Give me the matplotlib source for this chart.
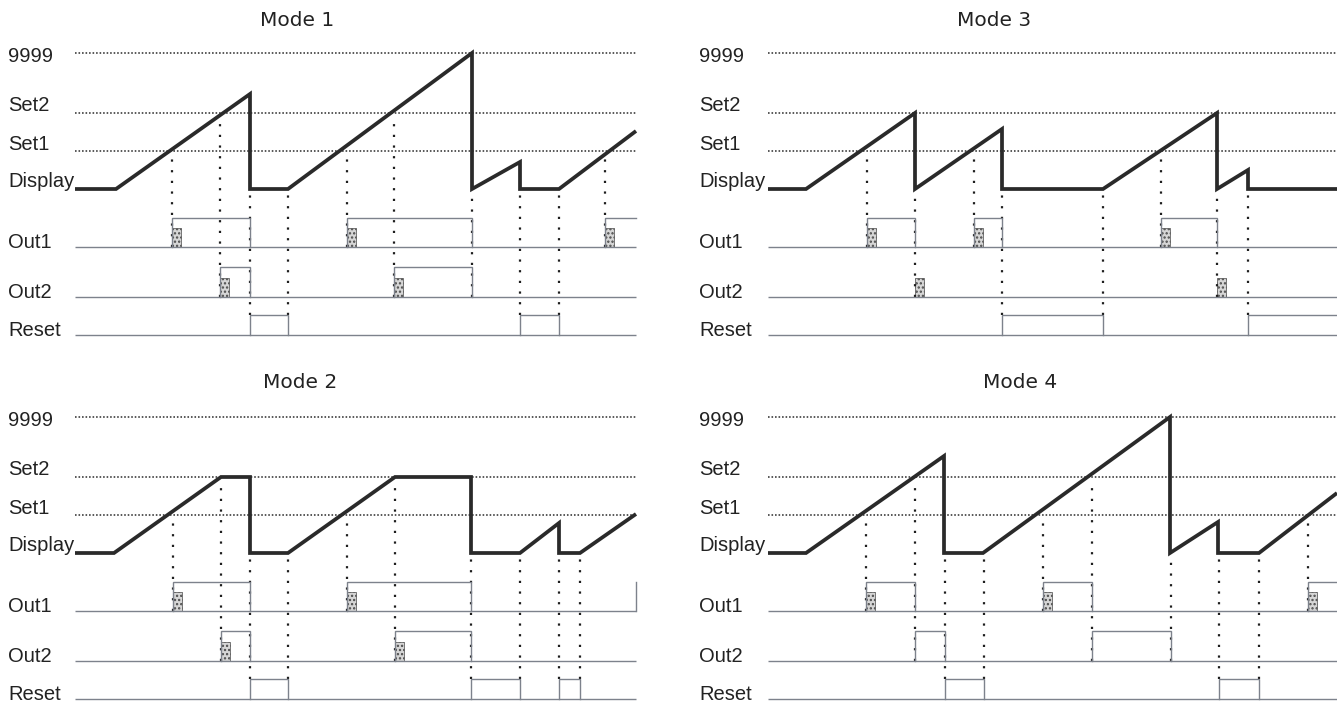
import matplotlib
matplotlib.use("Agg")
import matplotlib.pyplot as plt
from matplotlib.patches import Rectangle

# ---------------- levels (pixel-like units, display baseline = 0) ----------------
LV_9999, LV_SET2, LV_SET1, LV_DISP = 136, 76, 38, 0
OUT1_LO, OUT1_HI = -58, -29
OUT2_LO, OUT2_HI = -108, -78
RST_LO, RST_HI = -146, -126
row_labels = ["9999", "Set2", "Set1", "Display", "Out1", "Out2", "Reset"]

# ---------------- Mode 1 ----------------
m1_disp_t = [0, 41, 175, 175, 213, 397, 397, 445, 445, 484, 561]
m1_disp_v = [0, 0, 95, 0, 0, 136, 0, 27, 0, 0, 58]
m1_out1_on = [(97, 175), (272, 397), (530, 561)]
m1_out2_on = [(145, 175), (319, 397)]
m1_reset_on = [(175, 213), (445, 484)]
m1_out1_hatch = [97, 272, 530]
m1_out2_hatch = [145, 319]
m1_guide_t = [97, 145, 175, 213, 272, 319, 397, 445, 484, 530]
m1_guide_from = ["Set1", "Set2", "Display", "Display", "Set1", "Set2", "Display", "Display", "Display", "Set1"]
m1_guide_to = ["Out1", "Out2", "Reset", "Reset", "Out1", "Out2", "Out2", "Reset", "Reset", "Out1"]

# ---------------- Mode 2 ----------------
m2_disp_t = [0, 39, 146, 175, 175, 213, 320, 396, 396, 445, 484, 484, 505, 561]
m2_disp_v = [0, 0, 76, 76, 0, 0, 76, 76, 0, 0, 30, 0, 0, 39]
m2_out1_on = [(98, 175), (272, 396), (561, 561)]
m2_out2_on = [(146, 175), (320, 396)]
m2_reset_on = [(175, 213), (396, 445), (484, 505)]
m2_out1_hatch = [98, 272]
m2_out2_hatch = [146, 320]
m2_guide_t = [98, 146, 175, 213, 272, 320, 396, 445, 484, 505]
m2_guide_from = ["Set1", "Set2", "Display", "Display", "Set1", "Set2", "Display", "Display", "Display", "Display"]
m2_guide_to = ["Out1", "Out2", "Reset", "Reset", "Out1", "Out2", "Reset", "Reset", "Reset", "Reset"]

# ---------------- Mode 3 ----------------
m3_disp_t = [0, 38, 147, 147, 234, 234, 335, 449, 449, 480, 480, 569]
m3_disp_v = [0, 0, 76, 0, 60, 0, 0, 76, 0, 19, 0, 0]
m3_out1_on = [(99, 147), (206, 234), (393, 449)]
m3_out2_on = []
m3_reset_on = [(234, 335), (480, 569)]
m3_out1_hatch = [99, 206, 393]
m3_out2_hatch = [147, 449]
m3_guide_t = [99, 147, 206, 234, 335, 393, 449, 480]
m3_guide_from = ["Set1", "Display", "Set1", "Display", "Display", "Set1", "Display", "Display"]
m3_guide_to = ["Out1", "Out2", "Out1", "Reset", "Reset", "Out1", "Out2", "Reset"]

# ---------------- Mode 4 ----------------
m4_disp_t = [0, 38, 176, 176, 215, 402, 402, 450, 450, 491, 569]
m4_disp_v = [0, 0, 97, 0, 0, 136, 0, 31, 0, 0, 60]
m4_out1_on = [(98, 147), (275, 324), (540, 569)]
m4_out2_on = [(147, 177), (324, 403)]
m4_reset_on = [(177, 216), (451, 491)]
m4_out1_hatch = [98, 275, 540]
m4_out2_hatch = []
m4_guide_t = [98, 147, 177, 216, 275, 324, 403, 451, 491, 540]
m4_guide_from = ["Set1", "Set2", "Display", "Display", "Set1", "Set2", "Display", "Display", "Display", "Set1"]
m4_guide_to = ["Out1", "Out2", "Reset", "Reset", "Out1", "Out2", "Out2", "Reset", "Reset", "Out1"]

# ---------------- drawing ----------------
W, H = 1337, 706
plt.rcParams["hatch.linewidth"] = 1.1
fig = plt.figure(figsize=(W / 100, H / 100), dpi=100)
fig.patch.set_facecolor("white")

guide_top = {"Set1": LV_SET1, "Set2": LV_SET2, "Display": LV_DISP}
guide_bot = {"Out1": OUT1_LO, "Out2": OUT2_LO, "Reset": RST_HI}

LABEL_FONT = dict(family="Liberation Sans", fontsize=14.5, color="#222222")
TRACE = "#7d828c"
DARK = "#2a2a2a"


def steps(ax, on, lo, hi, t_end):
    ax.hlines(lo, 0, t_end, color=TRACE, lw=1.0)
    for a, b in on:
        xs = [a, a, b]
        ys = [lo, hi, hi]
        if b < t_end:
            xs.append(b)
            ys.append(lo)
        ax.plot(xs, ys, color=TRACE, lw=1.0, solid_joinstyle="miter")


def hatch_box(ax, t, lo):
    ax.add_patch(Rectangle((t, lo), 9, 19, facecolor="#d6d6d6",
                           edgecolor="#4a4a4a", hatch="....", lw=0.5))


def panel(rect_px, t0_px, base_px, t_end, label_x, title, title_x, title_y,
          disp_t, disp_v, out1_on, out2_on, reset_on, out1_hatch, out2_hatch,
          g_t, g_from, g_to):
    x0, y0, x1, y1 = rect_px
    ax = fig.add_axes([x0 / W, 1 - y1 / H, (x1 - x0) / W, (y1 - y0) / H])
    ax.set_xlim(x0 - t0_px, x1 - t0_px)
    ax.set_ylim(base_px - y1, base_px - y0)
    ax.axis("off")

    # threshold lines
    for lv in (LV_9999, LV_SET2, LV_SET1):
        ax.hlines(lv, 0, t_end, color="#333333", lw=1.15, linestyle=(0, (1, 1.2)))

    # guides
    for t, a, b in zip(g_t, g_from, g_to):
        ax.vlines(t, guide_bot[b], guide_top[a] - 6, color="#1e1e1e", lw=1.6,
                  linestyle=(0, (1, 3.8)))

    # outputs
    steps(ax, out1_on, OUT1_LO, OUT1_HI, t_end)
    steps(ax, out2_on, OUT2_LO, OUT2_HI, t_end)
    steps(ax, reset_on, RST_LO, RST_HI, t_end)
    for t in out1_hatch:
        hatch_box(ax, t, OUT1_LO)
    for t in out2_hatch:
        hatch_box(ax, t, OUT2_LO)

    # display waveform
    ax.plot(disp_t, disp_v, color=DARK, lw=2.7, solid_joinstyle="miter",
            solid_capstyle="butt")

    # labels
    lx = label_x - t0_px
    ax.text(lx, LV_9999 - 9, row_labels[0], va="baseline", ha="left", **LABEL_FONT)
    ax.text(lx, LV_SET2 + 2, row_labels[1], va="baseline", ha="left", **LABEL_FONT)
    ax.text(lx, LV_SET1 + 1, row_labels[2], va="baseline", ha="left", **LABEL_FONT)
    ax.text(lx, LV_DISP + 2, row_labels[3], va="baseline", ha="left", **LABEL_FONT)
    ax.text(lx, OUT1_LO - 1, row_labels[4], va="baseline", ha="left", **LABEL_FONT)
    ax.text(lx, OUT2_LO - 1, row_labels[5], va="baseline", ha="left", **LABEL_FONT)
    ax.text(lx, RST_LO - 1, row_labels[6], va="baseline", ha="left", **LABEL_FONT)

    ax.text(title_x - t0_px, base_px - title_y, title, ha="center", va="center",
            family="DejaVu Sans", fontsize=14.5, color="#222222")


panel((0, 0, 668, 353), 75, 189, 561, 8, "Mode 1", 297, 20,
      m1_disp_t, m1_disp_v, m1_out1_on, m1_out2_on, m1_reset_on,
      m1_out1_hatch, m1_out2_hatch, m1_guide_t, m1_guide_from, m1_guide_to)
panel((668, 0, 1337, 353), 768, 189, 569, 699, "Mode 3", 994, 20,
      m3_disp_t, m3_disp_v, m3_out1_on, m3_out2_on, m3_reset_on,
      m3_out1_hatch, m3_out2_hatch, m3_guide_t, m3_guide_from, m3_guide_to)
panel((0, 353, 668, 706), 75, 553, 561, 8, "Mode 2", 300, 382,
      m2_disp_t, m2_disp_v, m2_out1_on, m2_out2_on, m2_reset_on,
      m2_out1_hatch, m2_out2_hatch, m2_guide_t, m2_guide_from, m2_guide_to)
panel((668, 353, 1337, 706), 768, 553, 569, 699, "Mode 4", 1020, 382,
      m4_disp_t, m4_disp_v, m4_out1_on, m4_out2_on, m4_reset_on,
      m4_out1_hatch, m4_out2_hatch, m4_guide_t, m4_guide_from, m4_guide_to)

fig.savefig("out.png", dpi=100, facecolor="white")
